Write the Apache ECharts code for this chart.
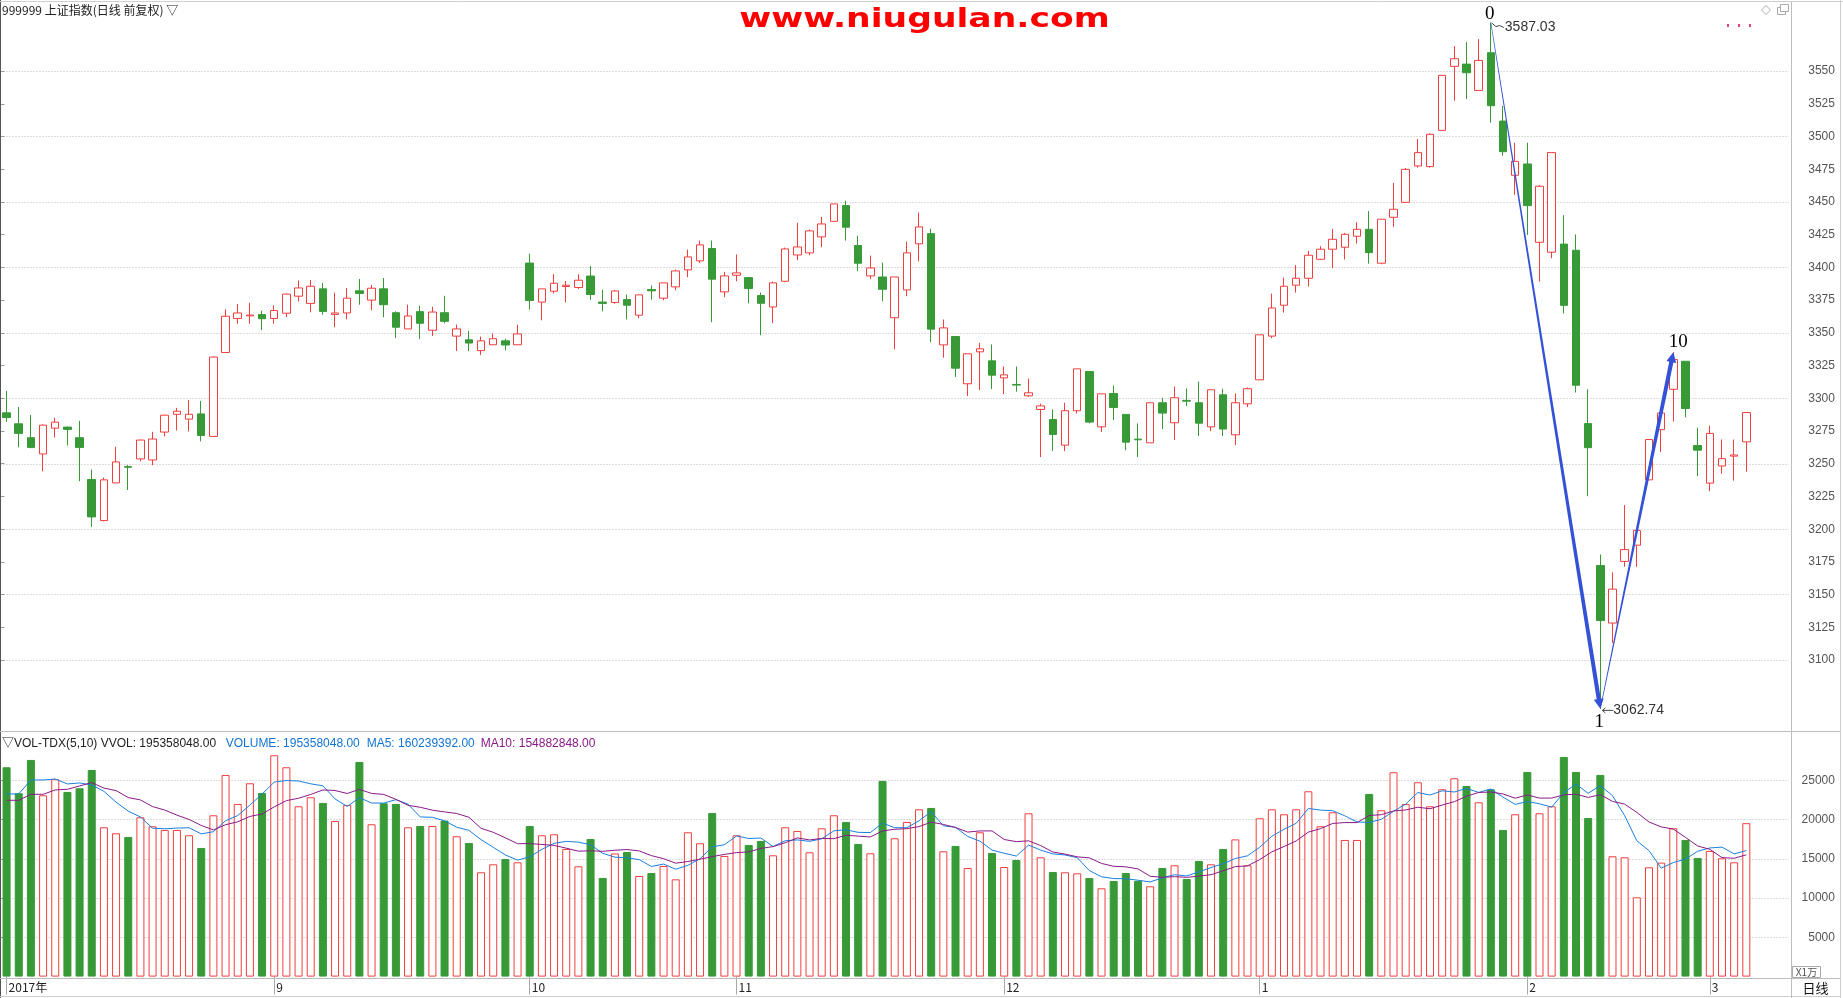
<!DOCTYPE html>
<html><head><meta charset="utf-8">
<script src="https://cdn.jsdelivr.net/npm/echarts@6/dist/echarts.min.js"></script>
<style>html,body{margin:0;padding:0;background:#fff;}#c{width:1843px;height:998px;}</style>
</head><body><div id="c"></div>
<script>
// ---------------- DATA ----------------
const dates = [
'2017-08-02','2017-08-03','2017-08-04','2017-08-07','2017-08-08','2017-08-09','2017-08-10','2017-08-11','2017-08-14','2017-08-15',
'2017-08-16','2017-08-17','2017-08-18','2017-08-21','2017-08-22','2017-08-23','2017-08-24','2017-08-25','2017-08-28','2017-08-29',
'2017-08-30','2017-08-31','2017-09-01','2017-09-04','2017-09-05','2017-09-06','2017-09-07','2017-09-08','2017-09-11','2017-09-12',
'2017-09-13','2017-09-14','2017-09-15','2017-09-18','2017-09-19','2017-09-20','2017-09-21','2017-09-22','2017-09-25','2017-09-26',
'2017-09-27','2017-09-28','2017-09-29','2017-10-09','2017-10-10','2017-10-11','2017-10-12','2017-10-13','2017-10-16','2017-10-17',
'2017-10-18','2017-10-19','2017-10-20','2017-10-23','2017-10-24','2017-10-25','2017-10-26','2017-10-27','2017-10-30','2017-10-31',
'2017-11-01','2017-11-02','2017-11-03','2017-11-06','2017-11-07','2017-11-08','2017-11-09','2017-11-10','2017-11-13','2017-11-14',
'2017-11-15','2017-11-16','2017-11-17','2017-11-20','2017-11-21','2017-11-22','2017-11-23','2017-11-24','2017-11-27','2017-11-28',
'2017-11-29','2017-11-30','2017-12-01','2017-12-04','2017-12-05','2017-12-06','2017-12-07','2017-12-08','2017-12-11','2017-12-12',
'2017-12-13','2017-12-14','2017-12-15','2017-12-18','2017-12-19','2017-12-20','2017-12-21','2017-12-22','2017-12-25','2017-12-26',
'2017-12-27','2017-12-28','2017-12-29','2018-01-02','2018-01-03','2018-01-04','2018-01-05','2018-01-08','2018-01-09','2018-01-10',
'2018-01-11','2018-01-12','2018-01-15','2018-01-16','2018-01-17','2018-01-18','2018-01-19','2018-01-22','2018-01-23','2018-01-24',
'2018-01-25','2018-01-26','2018-01-29','2018-01-30','2018-01-31','2018-02-01','2018-02-02','2018-02-05','2018-02-06','2018-02-07',
'2018-02-08','2018-02-09','2018-02-12','2018-02-13','2018-02-14','2018-02-22','2018-02-23','2018-02-26','2018-02-27','2018-02-28',
'2018-03-01','2018-03-02','2018-03-05','2018-03-06'];

const opens = [
3288.9,3280.5,3269.9,3257.5,3277.2,3278.0,3269.9,3238.0,3206.6,3235.4,
3247.8,3253.7,3252.9,3274.2,3287.8,3284.1,3288.1,3270.9,3335.0,3361.0,
3363.0,3364.0,3361.0,3365.0,3378.0,3372.5,3383.6,3364.1,3365.2,3382.1,
3375.0,3383.6,3365.4,3353.0,3366.2,3352.0,3365.4,3347.5,3344.7,3336.4,
3340.9,3343.9,3340.9,3403.3,3373.5,3381.8,3385.4,3384.6,3393.4,3373.5,
3373.2,3375.4,3363.5,3383.1,3376.5,3385.1,3398.1,3405.0,3414.4,3381.3,
3394.0,3392.2,3378.5,3369.8,3389.4,3409.5,3411.1,3423.3,3435.2,3447.2,
3416.7,3393.5,3392.7,3361.5,3382.8,3418.0,3425.8,3340.8,3347.2,3311.1,
3335.5,3328.6,3315.6,3310.6,3301.9,3291.5,3283.8,3264.2,3290.5,3320.5,
3278.2,3303.7,3287.7,3268.8,3266.0,3296.6,3281.3,3298.4,3296.6,3278.2,
3302.7,3272.1,3295.8,3314.1,3347.5,3371.1,3386.4,3391.7,3406.2,3413.9,
3415.4,3423.8,3429.1,3403.2,3438.3,3449.7,3477.5,3477.0,3504.7,3553.6,
3555.3,3535.2,3564.0,3511.8,3470.4,3479.0,3419.2,3411.6,3417.8,3413.1,
3280.7,3172.3,3128.3,3175.4,3187.8,3237.7,3276.0,3306.9,3328.3,3263.9,
3235.2,3248.3,3255.8,3266.7];

const highs = [
3305.6,3293.4,3287.3,3280.0,3285.1,3278.3,3282.8,3245.6,3239.5,3263.0,
3249.1,3268.4,3274.4,3287.4,3292.7,3298.7,3298.0,3332.0,3368.0,3372.0,
3373.0,3367.0,3371.0,3380.0,3390.0,3390.4,3388.1,3380.6,3384.3,3391.2,
3386.6,3391.9,3366.4,3371.5,3370.7,3369.9,3378.3,3356.3,3351.5,3347.2,
3349.5,3345.5,3356.3,3410.5,3383.6,3394.9,3389.6,3394.9,3401.0,3382.8,
3382.8,3379.3,3379.0,3386.1,3388.2,3398.3,3413.6,3420.5,3420.5,3396.6,
3409.8,3392.2,3380.8,3389.2,3415.1,3434.2,3428.9,3438.5,3448.5,3451.0,
3424.3,3409.0,3403.7,3392.7,3419.7,3441.9,3429.6,3360.2,3347.2,3334.0,
3342.4,3341.1,3324.3,3324.3,3315.1,3296.0,3291.5,3296.6,3322.5,3320.5,
3303.4,3309.8,3287.7,3280.8,3296.6,3300.4,3309.0,3307.5,3312.8,3306.5,
3307.3,3303.7,3308.3,3348.5,3380.0,3392.2,3401.7,3412.6,3416.2,3429.4,
3426.3,3434.5,3443.1,3436.8,3464.5,3476.0,3498.1,3502.4,3546.7,3569.1,
3572.1,3574.4,3587.03,3523.3,3495.3,3495.3,3463.0,3487.7,3439.9,3425.2,
3306.9,3180.7,3167.0,3218.4,3199.1,3268.5,3292.8,3335.2,3328.3,3277.6,
3279.1,3268.5,3268.5,3289.1];

const lows = [
3282.0,3262.5,3261.8,3244.3,3270.1,3264.1,3236.7,3201.8,3206.0,3235.0,
3229.9,3251.9,3248.9,3270.9,3275.4,3274.7,3267.1,3270.5,3335.0,3357.0,
3357.0,3352.0,3357.0,3362.0,3374.0,3365.7,3363.9,3354.3,3360.4,3371.5,
3367.2,3361.9,3346.0,3353.0,3345.2,3347.5,3357.3,3336.1,3336.1,3333.1,
3340.9,3336.6,3340.9,3367.7,3359.6,3380.1,3373.2,3383.6,3375.3,3366.4,
3372.2,3360.2,3361.2,3375.4,3374.9,3382.6,3392.5,3403.4,3358.1,3377.2,
3389.4,3372.6,3348.2,3357.4,3388.7,3405.5,3409.3,3415.4,3435.2,3420.5,
3397.1,3391.0,3374.2,3337.5,3378.0,3404.7,3342.9,3331.0,3316.2,3301.7,
3306.2,3307.0,3303.2,3305.0,3301.1,3255.1,3259.7,3259.7,3288.4,3280.8,
3274.2,3283.3,3260.4,3255.1,3266.0,3276.5,3268.1,3294.0,3271.1,3274.9,
3271.1,3264.2,3293.3,3314.1,3345.9,3365.5,3380.8,3385.4,3405.7,3399.4,
3406.0,3418.2,3402.9,3402.4,3430.9,3449.7,3476.2,3476.2,3504.7,3527.4,
3528.6,3535.2,3510.6,3485.4,3455.6,3424.8,3389.2,3407.0,3364.8,3304.4,
3225.2,3062.74,3113.1,3171.3,3171.3,3237.7,3258.9,3282.2,3285.4,3240.5,
3229.0,3242.4,3237.1,3243.9];

const closes = [
3285.3,3273.2,3262.5,3279.5,3281.8,3276.2,3262.5,3209.4,3237.7,3251.4,
3247.3,3268.1,3268.9,3287.1,3290.1,3287.8,3271.6,3331.5,3362.7,3365.2,
3363.6,3360.8,3367.1,3379.6,3384.3,3385.6,3366.4,3365.2,3376.5,3380.1,
3384.1,3371.5,3354.3,3362.9,3357.3,3365.9,3358.8,3353.0,3342.2,3343.9,
3345.5,3340.7,3349.2,3374.7,3383.6,3387.9,3386.4,3390.2,3379.3,3372.5,
3382.0,3371.1,3379.0,3382.1,3388.2,3397.3,3408.0,3417.2,3391.0,3393.5,
3395.8,3383.8,3372.6,3388.2,3414.1,3415.6,3427.9,3433.2,3448.5,3430.7,
3403.2,3399.6,3383.3,3392.7,3411.1,3430.9,3352.8,3353.8,3323.0,3334.0,
3337.8,3317.7,3317.9,3310.1,3304.2,3294.2,3272.4,3290.5,3322.5,3281.8,
3303.4,3293.0,3266.5,3268.3,3296.6,3288.7,3300.4,3297.8,3281.0,3306.5,
3276.5,3296.6,3307.3,3348.5,3369.0,3385.6,3391.7,3409.3,3413.9,3421.5,
3425.3,3429.1,3411.3,3436.8,3444.4,3474.9,3487.7,3501.7,3546.7,3559.4,
3548.7,3558.1,3523.5,3488.4,3481.0,3447.2,3462.0,3487.7,3371.0,3310.0,
3262.3,3130.2,3154.2,3184.4,3199.1,3268.5,3288.8,3329.6,3292.2,3260.4,
3273.2,3253.9,3256.7,3289.1];

// volume in units of 1万 (10,000 shares)
const volumes = [
26654,23343,27588,23088,25126,23513,23980,26314,19012,18248,
17781,20286,19140,18673,18673,17994,16380,20541,25678,21984,
24617,23385,28183,26654,21687,22833,22111,19820,21857,27333,
19395,22069,21984,19012,19182,19182,19862,17866,17017,13280,
14299,14979,14554,19182,17994,18121,16253,14044,17526,12558,
15680,15870,12812,13194,14086,12388,18375,16974,20837,15361,
17994,16762,17271,15446,19012,18545,15828,18885,20541,19692,
16889,15701,24914,17611,19692,21305,21475,15955,16634,13831,
18375,15743,13959,14851,20795,15191,13322,13280,13152,12558,
11242,12176,13194,12176,11497,13831,14171,12430,14724,14299,
16253,17471,14171,20159,21305,20668,21305,23598,19140,20923,
17399,17399,23258,21178,26018,21984,24744,21687,23853,25254,
24277,22196,23853,18673,20668,26060,20795,21687,27970,26060,
20201,25678,15319,15191,10096,13916,14511,18885,17399,15106,
16002,15064,14554,19536];

// moving-average values at the very start (need data before the first visible day)
const ma5Head  = [23258, 23258, 25041, 25041];
const ma10Head = [22451, 22451, 23215, 23215, 23767, 23853, 24277, 24701, 24000];

const priceTicks = {min: 3100, max: 3550, labelStep: 25, gridStep: 50};
const volTicks = {min: 5000, max: 25000, step: 5000};

const headerText = '999999 上证指数(日线 前复权) ▽';
const legendParts = [
  {text: '▽VOL-TDX(5,10) VVOL: 195358048.00', color: '#222222'},
  {text: 'VOLUME: 195358048.00', color: '#1273d4'},
  {text: 'MA5: 160239392.00', color: '#1273d4'},
  {text: 'MA10: 154882848.00', color: '#8a1a88'}
];

// ---------------- LAYOUT / STYLE ----------------
const RED = '#f43d3d', GREEN = '#379a37', BG = '#ffffff';
const PAD = 3;
const BAND = 12.166;
const GRID_LEFT = 0.5;
const GRID_W = (dates.length + PAD) * BAND;
const FONT = '"Liberation Sans", Arial, "Noto Sans CJK SC", sans-serif';
const CJK = '"Noto Sans CJK SC", "Liberation Sans", sans-serif';

const cats = dates.concat([' ', '  ', '   ']);

function monthLabel(i) {
  if (i >= dates.length) return '';
  const d = dates[i];
  if (i === 0) return d.slice(0, 4) + '年';
  if (d.slice(5, 7) !== dates[i - 1].slice(5, 7)) return String(parseInt(d.slice(5, 7), 10));
  return '';
}
const isMonthStart = i => monthLabel(i) !== '';

const kData = dates.map((d, i) => [opens[i], closes[i], lows[i], highs[i]]);
const volData = volumes.map((v, i) => {
  const up = closes[i] > opens[i];
  return {value: v, itemStyle: {color: up ? BG : GREEN, borderColor: up ? RED : GREEN, borderWidth: 1}};
});
function ma(n, head) {
  return volumes.map((v, i) => {
    if (i < n - 1) return head[i];
    let s = 0; for (let k = i - n + 1; k <= i; k++) s += volumes[k];
    return +(s / n).toFixed(1);
  });
}
const ma5 = ma(5, ma5Head), ma10 = ma(10, ma10Head);

const chart = echarts.init(document.getElementById('c'), null, {renderer: 'canvas'});

const dotted = {type: [1, 2], color: '#b8b8b8', width: 1};
const plain = v => String(v);

chart.setOption({
  animation: false,
  backgroundColor: BG,
  grid: [
    {left: GRID_LEFT, top: 5.6, width: GRID_W, height: 719.95},
    {left: GRID_LEFT, top: 741, width: GRID_W, height: 235.6},
    {left: GRID_LEFT, top: 71.05, width: GRID_W, height: 589.05},
    {left: GRID_LEFT, top: 780.3, width: GRID_W, height: 157.04}
  ],
  xAxis: [
    {gridIndex: 0, type: 'category', data: cats, show: false, boundaryGap: true},
    {gridIndex: 1, type: 'category', data: cats, boundaryGap: true,
      axisLine: {show: false},
      axisTick: {show: true, alignWithLabel: true, length: 18, interval: i => isMonthStart(i), lineStyle: {color: '#a8a8a8'}},
      axisLabel: {show: true, interval: i => isMonthStart(i), formatter: (v, i) => monthLabel(i),
        align: 'left', margin: 5, padding: [0, 0, 0, 2], color: '#222', fontSize: 12, fontFamily: CJK},
      splitLine: {show: false}},
    {gridIndex: 2, type: 'value', min: 0, max: 1, show: false},
    {gridIndex: 3, type: 'value', min: 0, max: 1, show: false}
  ],
  yAxis: [
    {gridIndex: 0, type: 'value', min: 3050, max: 3600, show: false},
    {gridIndex: 1, type: 'value', min: 0, max: 30000, show: false},
    {gridIndex: 2, type: 'value', position: 'right', offset: 2, min: priceTicks.min, max: priceTicks.max, interval: priceTicks.labelStep,
      axisLine: {show: false}, axisTick: {show: true, length: 4, lineStyle: {color: '#999'}},
      axisLabel: {margin: 44, align: 'right', color: '#555', fontSize: 12, fontFamily: FONT, formatter: plain}, splitLine: {show: false}},
    {gridIndex: 2, type: 'value', position: 'left', min: priceTicks.min, max: priceTicks.max, interval: priceTicks.gridStep,
      axisLine: {show: false}, axisTick: {show: false}, axisLabel: {show: false}, splitLine: {show: true, lineStyle: dotted}},
    {gridIndex: 3, type: 'value', position: 'right', offset: 2, min: volTicks.min, max: volTicks.max, interval: volTicks.step,
      axisLine: {show: false}, axisTick: {show: true, length: 4, lineStyle: {color: '#999'}},
      axisLabel: {margin: 44, align: 'right', color: '#555', fontSize: 12, fontFamily: FONT, formatter: plain}, splitLine: {show: false}},
    {gridIndex: 3, type: 'value', position: 'left', min: volTicks.min, max: volTicks.max, interval: volTicks.step,
      axisLine: {show: false}, axisTick: {show: false}, axisLabel: {show: false}, splitLine: {show: true, lineStyle: dotted}}
  ],
  series: [
    {type: 'candlestick', xAxisIndex: 0, yAxisIndex: 0, data: kData, barWidth: 8,
      itemStyle: {color: BG, color0: GREEN, borderColor: RED, borderColor0: GREEN, borderWidth: 1}, z: 5},
    {type: 'bar', xAxisIndex: 1, yAxisIndex: 1, data: volData, barWidth: 8, z: 5},
    {type: 'line', xAxisIndex: 1, yAxisIndex: 1, data: ma5, showSymbol: false, symbol: 'none',
      lineStyle: {width: 1, color: '#1a7fe0'}, z: 6},
    {type: 'line', xAxisIndex: 1, yAxisIndex: 1, data: ma10, showSymbol: false, symbol: 'none',
      lineStyle: {width: 1, color: '#8a1a88'}, z: 6}
  ]
});

// ---------------- ANNOTATIONS ----------------
const peakIdx = highs.indexOf(Math.max.apply(null, highs));
const troughIdx = lows.indexOf(Math.min.apply(null, lows));
let reboundIdx = troughIdx + 1;
for (let i = troughIdx + 1; i < highs.length; i++) if (highs[i] > highs[reboundIdx]) reboundIdx = i;

const px = (i, v) => chart.convertToPixel({xAxisIndex: 0, yAxisIndex: 0}, [i, v]);
const pPeak = px(peakIdx, highs[peakIdx]);
const pTrough = px(troughIdx, lows[troughIdx]);
const pReb = px(reboundIdx, highs[reboundIdx]);

function taperArrow(p0, p1, w0, w1, headLen, headW, color) {
  const dx = p1[0] - p0[0], dy = p1[1] - p0[1];
  const L = Math.hypot(dx, dy), ux = dx / L, uy = dy / L, nx = -uy, ny = ux;
  const bx = p1[0] - ux * headLen, by = p1[1] - uy * headLen;
  return {type: 'polygon', z: 100, shape: {points: [
    [p0[0] + nx * w0 / 2, p0[1] + ny * w0 / 2],
    [bx + nx * w1 / 2, by + ny * w1 / 2],
    [bx + nx * headW, by + ny * headW],
    [p1[0], p1[1]],
    [bx - nx * headW, by - ny * headW],
    [bx - nx * w1 / 2, by - ny * w1 / 2],
    [p0[0] - nx * w0 / 2, p0[1] - ny * w0 / 2]
  ]}, style: {fill: color}};
}
function line(x1, y1, x2, y2, c, w) {
  return {type: 'line', z: 50, shape: {x1, y1, x2, y2}, style: {stroke: c, lineWidth: w || 1}};
}
function txt(x, y, text, font, fill, align, extra) {
  return Object.assign({type: 'text', z: 60, x, y,
    style: {text, font, fill, align: align || 'left', verticalAlign: 'middle'}}, extra || {});
}

const ARROW = '#3352d6';
const g = [];
// frame
g.push(line(0.5, 0, 0.5, 998, '#555'));
g.push(line(0, 1.5, 1843, 1.5, '#cfcfcf'));
g.push(line(0, 731.5, 1840, 731.5, '#bdbdbd'));
g.push(line(0, 978.5, 1840, 978.5, '#bdbdbd'));
g.push(line(0, 996.5, 1840, 996.5, '#cfcfcf'));
g.push(line(1791.5, 1.5, 1791.5, 998, '#bdbdbd'));
g.push(line(1840.5, 0, 1840.5, 998, '#cfcfcf'));
// header
g.push(txt(2, 10.5, headerText, '12px ' + CJK, '#222'));
g.push(txt(924.5, 20, 'www.niugulan.com', 'bold 26px "DejaVu Sans", sans-serif', '#ff0000', 'center', {scaleX: 1.33}));
// top-right icons
g.push({type: 'polygon', z: 60, shape: {points: [[1766, 5.5], [1770.5, 10], [1766, 14.5], [1761.5, 10]]}, style: {fill: 'none', stroke: '#aaa'}});
g.push({type: 'rect', z: 60, shape: {x: 1777.5, y: 7.5, width: 8, height: 7}, style: {fill: BG, stroke: '#aaa'}});
g.push({type: 'rect', z: 61, shape: {x: 1780.5, y: 4.5, width: 8, height: 7}, style: {fill: BG, stroke: '#aaa'}});
[1727, 1738, 1749].forEach(x => g.push({type: 'rect', z: 60, shape: {x, y: 24, width: 2, height: 3}, style: {fill: '#e0408a'}}));
// volume legend
const legendX = [2, 225.7, 366.7, 480.7];
legendParts.forEach((p, k) => g.push(txt(legendX[k], 743.5, p.text, '12px ' + FONT, p.color)));
// bottom-right cells
g.push({type: 'rect', z: 60, shape: {x: 1792.5, y: 966.5, width: 28, height: 11}, style: {fill: BG, stroke: '#aaa'}});
g.push(txt(1806.5, 972.5, 'X1万', '10px ' + CJK, '#555', 'center'));
g.push(txt(1815.5, 988, '日线', '13px ' + CJK, '#111', 'center'));
// wave arrows
g.push(taperArrow(pPeak, pTrough, 0.6, 4.2, 10, 5, ARROW));
g.push(taperArrow(pTrough, pReb, 0.6, 4.2, 10, 5, ARROW));
// wave labels
const SERIF = '19px "Liberation Serif", "DejaVu Serif", serif';
g.push(txt(pPeak[0] - 1, pPeak[1] - 8.5, '0', SERIF, '#000', 'center'));
g.push(txt(pTrough[0] - 1, pTrough[1] + 13.5, '1', SERIF, '#000', 'center'));
g.push(txt(pReb[0] + 5, pReb[1] - 10, '10', SERIF, '#000', 'center'));
// price callouts
const NARROW = '14px "Liberation Sans Narrow", "Liberation Sans", sans-serif';
g.push({type: 'polyline', z: 60, shape: {points: [[pPeak[0] + 1, pPeak[1] + 0.5], [pPeak[0] + 5, pPeak[1] + 4], [pPeak[0] + 9, pPeak[1] + 3], [pPeak[0] + 13, pPeak[1] + 5]]}, style: {stroke: '#444', lineWidth: 1, fill: 'none'}});
g.push(txt(pPeak[0] + 14, pPeak[1] + 5, highs[peakIdx].toFixed(2), NARROW, '#333'));
g.push(line(pTrough[0] + 2, pTrough[1] + 1.5, pTrough[0] + 13, pTrough[1] + 1.5, '#444'));
g.push(line(pTrough[0] + 2, pTrough[1] + 1.5, pTrough[0] + 5, pTrough[1] - 1, '#444'));
g.push(line(pTrough[0] + 2, pTrough[1] + 1.5, pTrough[0] + 5, pTrough[1] + 4, '#444'));
g.push(txt(pTrough[0] + 13, pTrough[1] + 1.5, lows[troughIdx].toFixed(2), NARROW, '#333'));

chart.setOption({graphic: {elements: g}});
</script>
</body></html>
